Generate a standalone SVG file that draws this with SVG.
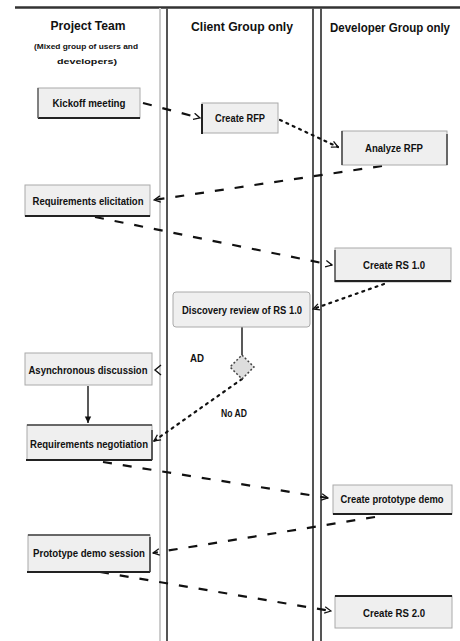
<svg xmlns="http://www.w3.org/2000/svg" width="460" height="641" viewBox="0 0 460 641">
<defs>
<style>
.hdr{font-family:"Liberation Sans",Arial,sans-serif;font-weight:bold;font-size:12px;fill:#111;text-anchor:middle}
.sub{font-family:"Liberation Sans",Arial,sans-serif;font-weight:bold;font-size:8px;fill:#111;text-anchor:middle}
.lbl{font-family:"Liberation Sans",Arial,sans-serif;font-weight:bold;font-size:10px;fill:#111;text-anchor:middle}
.box{fill:#efefef;stroke:#aaa;stroke-width:1}
.edge{stroke:#222;stroke-width:2;fill:none}
.dash{stroke:#111;stroke-width:2.2;fill:none;stroke-dasharray:9 11}
.dot{stroke:#111;stroke-width:2.2;fill:none;stroke-dasharray:2 5;stroke-linecap:round}
.solid{stroke:#222;stroke-width:1.5;fill:none}
</style>
<marker id="arr" viewBox="0 0 10 10" refX="9" refY="5" markerWidth="8" markerHeight="8" markerUnits="userSpaceOnUse" orient="auto">
<path d="M1,1 L9,5 L1,9" fill="none" stroke="#111" stroke-width="1.6"/>
</marker>
<marker id="arrs" viewBox="0 0 10 10" refX="9" refY="5" markerWidth="8" markerHeight="8" markerUnits="userSpaceOnUse" orient="auto">
<path d="M1,1 L9,5 L1,9 Z" fill="#111"/>
</marker>
</defs>
<rect width="460" height="641" fill="#fff"/>
<g id="lanes">
<line x1="15" y1="7.5" x2="460" y2="7.5" stroke="#333" stroke-width="2.5"/>
<line x1="160" y1="8" x2="160" y2="641" stroke="#ccc" stroke-width="2"/>
<line x1="167" y1="8" x2="167" y2="641" stroke="#555" stroke-width="2"/>
<line x1="313" y1="8" x2="313" y2="641" stroke="#555" stroke-width="2"/>
<line x1="321" y1="8" x2="321" y2="641" stroke="#555" stroke-width="2"/>
<text class="hdr" x="88" y="30" textLength="75" lengthAdjust="spacingAndGlyphs">Project Team</text>
<text class="sub" x="86" y="49" textLength="104" lengthAdjust="spacingAndGlyphs">(Mixed group of users and</text>
<text class="sub" x="87" y="64" textLength="60" lengthAdjust="spacingAndGlyphs">developers)</text>
<text class="hdr" x="242" y="31" textLength="102" lengthAdjust="spacingAndGlyphs">Client Group only</text>
<text class="hdr" x="390" y="32" textLength="120" lengthAdjust="spacingAndGlyphs">Developer Group only</text>
</g>
<g id="connectors">
<path class="dash" d="M143,103 L200,118" marker-end="url(#arr)"/>
<path class="dot" d="M280,120 L338,147" marker-end="url(#arr)"/>
<path class="dash" d="M382,166 L154,200" marker-end="url(#arr)"/>
<path class="dash" d="M95,217 L332,265" marker-end="url(#arr)"/>
<path class="dot" d="M384,284 L313,309" marker-end="url(#arr)"/>
<path class="solid" d="M242,327 L242,355"/>
<path class="dot" d="M242,379 L154,441" marker-end="url(#arr)"/>
<path class="solid" d="M88,386 L88,423" marker-end="url(#arrs)"/>
<path d="M161,365 L155,370 L161,375" fill="none" stroke="#111" stroke-width="1.4"/>
<path class="dash" d="M103,462 L328,498" marker-end="url(#arr)"/>
<path class="dash" d="M375,517 L153,553" marker-end="url(#arr)"/>
<path class="dash" d="M100,572 L331,611" marker-end="url(#arr)"/>
</g>
<g id="kickoff">
<rect class="box" x="38" y="88" width="102" height="30"/>
<line x1="38" y1="118" x2="140" y2="118" class="edge"/>
<line x1="38" y1="88" x2="38" y2="118" stroke="#666" stroke-width="1.5"/>
<text class="lbl" x="89" y="107" textLength="73" lengthAdjust="spacingAndGlyphs">Kickoff meeting</text>
</g>
<g id="createRFP">
<rect class="box" x="202" y="103" width="76" height="30" stroke="none"/>
<line x1="202" y1="104" x2="202" y2="134" class="edge"/>
<text class="lbl" x="240" y="122" textLength="50" lengthAdjust="spacingAndGlyphs">Create RFP</text>
</g>
<g id="analyzeRFP">
<rect class="box" x="342" y="131" width="105" height="34" stroke="none"/>
<line x1="342" y1="131" x2="342" y2="165" stroke="#444" stroke-width="1.5"/>
<line x1="447" y1="134" x2="447" y2="165" stroke="#444" stroke-width="1.5"/>
<text class="lbl" x="394" y="152" textLength="58" lengthAdjust="spacingAndGlyphs">Analyze RFP</text>
</g>
<g id="reqElicitation">
<rect class="box" x="25" y="185" width="125" height="31"/>
<line x1="25" y1="216" x2="150" y2="216" class="edge"/>
<text class="lbl" x="88" y="205" textLength="111" lengthAdjust="spacingAndGlyphs">Requirements elicitation</text>
</g>
<g id="createRS1">
<rect class="box" x="335" y="248" width="116" height="34" stroke="none"/>
<line x1="335" y1="250" x2="335" y2="282" stroke="#555" stroke-width="1.5"/>
<line x1="335" y1="281" x2="451" y2="281" class="edge"/>
<text class="lbl" x="394" y="269" textLength="62" lengthAdjust="spacingAndGlyphs">Create RS 1.0</text>
</g>
<g id="discovery">
<rect class="box" x="173" y="292" width="137" height="35" rx="3" stroke="#888" stroke-width="1.5"/>
<text class="lbl" x="242" y="314" textLength="120" lengthAdjust="spacingAndGlyphs">Discovery review of RS 1.0</text>
</g>
<g id="decision">
<path d="M242,355 L254,367 L242,379 L230,367 Z" fill="#ddd" stroke="#444" stroke-width="1.5" stroke-dasharray="2 2"/>
<text class="lbl" x="197" y="362" textLength="14" lengthAdjust="spacingAndGlyphs">AD</text>
<text class="lbl" x="234" y="417" textLength="26" lengthAdjust="spacingAndGlyphs">No AD</text>
</g>
<g id="asyncDiscussion">
<rect class="box" x="25" y="353" width="127" height="32" stroke="none"/>
<text class="lbl" x="88" y="374" textLength="119" lengthAdjust="spacingAndGlyphs">Asynchronous discussion</text>
</g>
<g id="reqNegotiation">
<rect class="box" x="27" y="425" width="125" height="35"/>
<line x1="27" y1="425" x2="152" y2="425" stroke="#444" stroke-width="1.5"/>
<line x1="26" y1="460" x2="152" y2="460" class="edge"/>
<line x1="152" y1="430" x2="152" y2="460" stroke="#333" stroke-width="1.5"/>
<text class="lbl" x="89" y="448" textLength="118" lengthAdjust="spacingAndGlyphs">Requirements negotiation</text>
</g>
<g id="createPrototype">
<rect class="box" x="333" y="485" width="119" height="29" stroke="none"/>
<line x1="333" y1="514" x2="452" y2="514" class="edge"/>
<text class="lbl" x="392" y="503" textLength="103" lengthAdjust="spacingAndGlyphs">Create prototype demo</text>
</g>
<g id="prototypeSession">
<rect class="box" x="28" y="535" width="122" height="37"/>
<line x1="28" y1="535" x2="150" y2="535" stroke="#444" stroke-width="1.5"/>
<line x1="27" y1="572" x2="150" y2="572" class="edge"/>
<line x1="150" y1="537" x2="150" y2="572" stroke="#333" stroke-width="1.5"/>
<text class="lbl" x="89" y="557" textLength="112" lengthAdjust="spacingAndGlyphs">Prototype demo session</text>
</g>
<g id="createRS2">
<rect class="box" x="335" y="596" width="117" height="32" stroke="none"/>
<line x1="335" y1="596" x2="452" y2="596" class="edge"/>
<text class="lbl" x="394" y="617" textLength="62" lengthAdjust="spacingAndGlyphs">Create RS 2.0</text>
</g>
</svg>
